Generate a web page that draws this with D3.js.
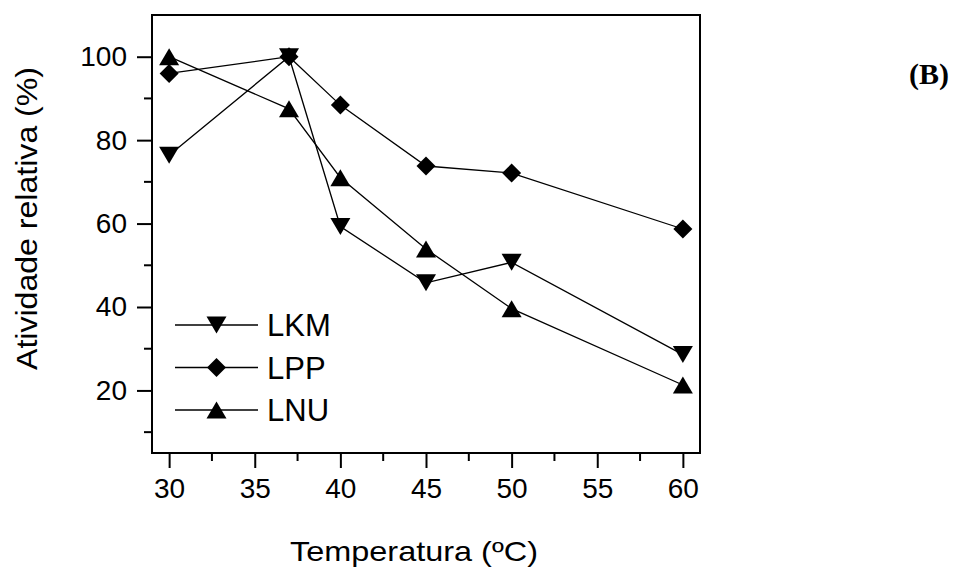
<!DOCTYPE html>
<html>
<head>
<meta charset="utf-8">
<script src="https://cdn.jsdelivr.net/npm/d3@7"></script>
<style>
  body { margin: 0; background: #fff; }
  svg { font-family: Arial, "Liberation Sans", sans-serif; }
</style>
</head>
<body>
<svg width="954" height="571"></svg>
<script>
// temperature (ºC) and relative activity (%)
const temps = [30, 37, 40, 45, 50, 60];
const lkm = [76.4, 100, 59.3, 45.8, 50.7, 28.6];
const lpp = [96.0, 100, 88.4, 73.8, 72.1, 58.7];
const lnu = [100, 87.5, 71.0, 53.9, 39.6, 21.3];
const seriesNames = ["LKM", "LPP", "LNU"];
const xTicks = [30, 35, 40, 45, 50, 55, 60];
const yTicks = [20, 40, 60, 80, 100];

const svg = d3.select("svg");
const plotL = 152, plotR = 700, plotT = 15, plotB = 453;

const x = d3.scaleLinear().domain([29, 61]).range([plotL, plotR]);
const y = d3.scaleLinear().domain([5, 110]).range([plotB, plotT]);

// frame
svg.append("rect")
  .attr("x", plotL).attr("y", plotT)
  .attr("width", plotR - plotL).attr("height", plotB - plotT)
  .attr("fill", "none").attr("stroke", "#000").attr("stroke-width", 2);

// minor ticks
const xMinor = d3.range(32.5, 61, 5);
const yMinor = d3.range(10, 110, 20);
svg.append("g").selectAll("line").data(xMinor).join("line")
  .attr("x1", d => x(d)).attr("x2", d => x(d))
  .attr("y1", plotB).attr("y2", plotB + 8)
  .attr("stroke", "#000").attr("stroke-width", 2);
svg.append("g").selectAll("line").data(yMinor).join("line")
  .attr("y1", d => y(d)).attr("y2", d => y(d))
  .attr("x1", plotL).attr("x2", plotL - 8)
  .attr("stroke", "#000").attr("stroke-width", 2);

// major axes
const xAxis = svg.append("g")
  .attr("transform", `translate(0,${plotB})`)
  .call(d3.axisBottom(x).tickValues(xTicks).tickSize(15).tickPadding(10));
const yAxis = svg.append("g")
  .attr("transform", `translate(${plotL},0)`)
  .call(d3.axisLeft(y).tickValues(yTicks).tickSize(15).tickPadding(10));
[xAxis, yAxis].forEach(g => {
  g.select(".domain").remove();
  g.selectAll(".tick line").attr("stroke-width", 2);
  g.selectAll("text").attr("font-size", 28).attr("font-family", "Arial, 'Liberation Sans', sans-serif").attr("fill", "#000");
});

// axis titles (the original glyphs are a little wider than Arial)
svg.append("text")
  .attr("x", 414).attr("y", 561)
  .attr("text-anchor", "middle").attr("font-size", 28)
  .attr("textLength", 248).attr("lengthAdjust", "spacingAndGlyphs")
  .text("Temperatura (ºC)");
svg.append("text")
  .attr("transform", "translate(37,218.5) rotate(-90)")
  .attr("text-anchor", "middle").attr("font-size", 30)
  .attr("textLength", 303).attr("lengthAdjust", "spacingAndGlyphs")
  .text("Atividade relativa (%)");

// panel label
svg.append("text")
  .attr("x", 949).attr("y", 84)
  .attr("text-anchor", "end")
  .attr("font-family", "'Liberation Serif', 'Times New Roman', serif")
  .attr("font-weight", "bold").attr("font-size", 30)
  .text("(B)");

const symbols = {
  LKM: "M-10,-8.5L10,-8.5L0,8.5Z",
  LPP: "M0,-9.5L9.5,0L0,9.5L-9.5,0Z",
  LNU: "M-10,8.5L10,8.5L0,-8.5Z"
};
const data = { LKM: lkm, LPP: lpp, LNU: lnu };

const line = d3.line().x(d => x(d[0])).y(d => y(d[1]));

seriesNames.forEach(name => {
  const pts = temps.map((t, i) => [t, data[name][i]]);
  svg.append("path").datum(pts)
    .attr("d", line)
    .attr("fill", "none").attr("stroke", "#000").attr("stroke-width", 1.3);
  svg.append("g").selectAll("path").data(pts).join("path")
    .attr("d", symbols[name])
    .attr("transform", d => `translate(${x(d[0])},${y(d[1])})`)
    .attr("fill", "#000");
});

// legend
const legend = svg.append("g");
seriesNames.forEach((name, i) => {
  const ly = 325 + i * 42.5;
  legend.append("line")
    .attr("x1", 175).attr("x2", 258).attr("y1", ly).attr("y2", ly)
    .attr("stroke", "#000").attr("stroke-width", 1.3);
  legend.append("path")
    .attr("d", symbols[name])
    .attr("transform", `translate(216.5,${ly})`)
    .attr("fill", "#000");
  legend.append("text")
    .attr("x", 267).attr("y", ly + 11)
    .attr("font-size", 31)
    .text(name);
});
</script>
</body>
</html>
